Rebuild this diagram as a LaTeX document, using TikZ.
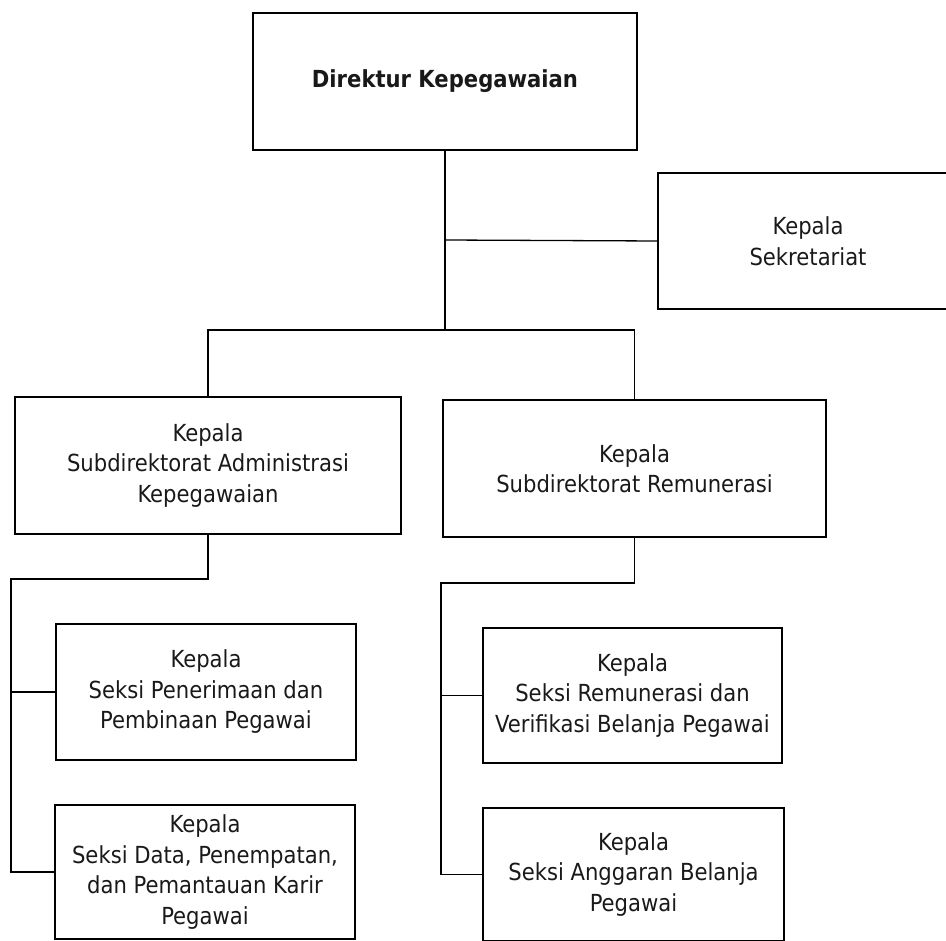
\documentclass[tikz,border=0pt]{standalone}
\usepackage{fontspec}
\setmainfont{DejaVu Sans Condensed}
\begin{document}
\begin{tikzpicture}[x=1pt,y=-1pt,
  box/.style={draw=black, line width=1.3pt, rectangle, inner sep=0pt,
    align=center, text=black!90, font=\fontsize{23.5}{30.5}\selectfont},
  link/.style={draw=black, line width=1.3pt}]
\useasboundingbox (0,0) rectangle (946,941);

% boxes
\node[box, minimum width=384pt, minimum height=137pt,
  font=\fontsize{23.5}{30.5}\selectfont\bfseries] (dir) at (445,81.5) {Direktur Kepegawaian};
\node[box, minimum width=300pt, minimum height=136pt] (sek) at (808,241) {Kepala\\Sekretariat};
\node[box, minimum width=386pt, minimum height=137pt] (adm) at (208,465.5)
  {Kepala\\Subdirektorat Administrasi\\Kepegawaian};
\node[box, minimum width=383pt, minimum height=137pt] (rem) at (634.5,468.5)
  {Kepala\\Subdirektorat Remunerasi};
\node[box, minimum width=300pt, minimum height=136pt] (s1) at (206,692)
  {Kepala\\Seksi Penerimaan dan\\Pembinaan Pegawai};
\node[box, minimum width=300pt, minimum height=134pt] (s2) at (205,872)
  {Kepala\\Seksi Data, Penempatan,\\dan Pemantauan Karir\\Pegawai};
\node[box, minimum width=299pt, minimum height=135pt] (r1) at (632.5,695.5)
  {Kepala\\Seksi Remunerasi dan\\Verifikasi Belanja Pegawai};
\node[box, minimum width=301pt, minimum height=133pt] (r2) at (633.5,874.5)
  {Kepala\\Seksi Anggaran Belanja\\Pegawai};

% junction points of the connectors
\coordinate (j1) at (445,240);
\coordinate (j2) at (445,330);
\coordinate (la) at (11,579);
\coordinate (ra) at (441,583);

% top level
\draw[link] (dir.south) -- (j2);
\draw[link] (j1) -- (sek.west);
\draw[link] (adm.north) |- (j2) -| (rem.north);

% administration branch
\draw[link] (adm.south) |- (la) |- (s2.west);
\draw[link] (s1.west -| la) -- (s1.west);

% remuneration branch
\draw[link] (rem.south) |- (ra) |- (r2.west);
\draw[link] (r1.west -| ra) -- (r1.west);
\end{tikzpicture}
\end{document}
